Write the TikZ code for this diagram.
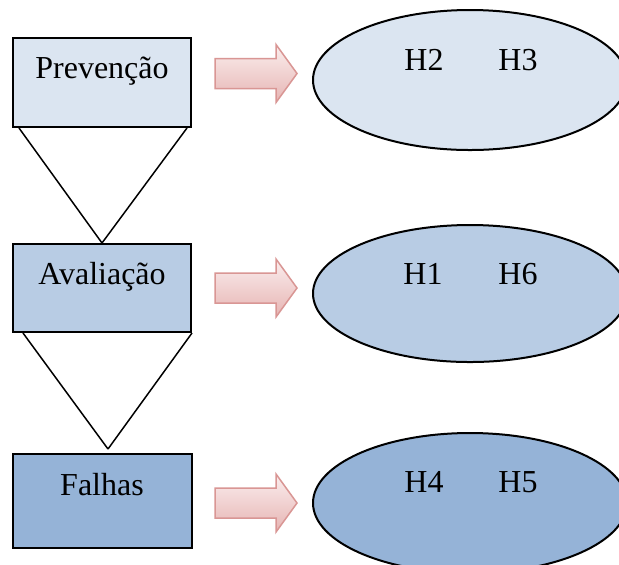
\documentclass[tikz,border=0pt]{standalone}
\usepackage{fontspec}
\setmainfont{Liberation Serif}
\usetikzlibrary{calc,positioning,shapes.geometric}

\begin{document}
\begin{tikzpicture}[x=0.5pt,y=-0.5pt,
    box/.style={draw=black,line width=1pt,rectangle,inner sep=0pt},
    oval/.style={draw=black,line width=1pt,ellipse,inner sep=0pt,
      minimum width=157pt},
    txt/.style={anchor=base,inner sep=0pt,font=\fontsize{16}{19}\selectfont},
    leg/.style={line width=0.75pt,draw=black}]
                        \clip (0,0) rectangle (619,564);
                        \fill[white] (0,0) rectangle (619,564);

                        % Changing colors
                        \definecolor{levelA}{RGB}{219,229,241}%
                        \definecolor{levelB}{RGB}{184,204,228}%
                        \definecolor{levelC}{RGB}{149,179,215}%
                        \definecolor{arrowtop}{RGB}{251,238,238}%
                        \definecolor{arrowbot}{RGB}{230,180,179}%
                        \definecolor{arrowline}{RGB}{217,150,148}%

                        % Drawing boxes
                        \node [box,fill=levelA,minimum width=89pt,minimum height=44.5pt] (prev) at (102,82.5) {};
                        \node [box,fill=levelB,minimum width=89pt,minimum height=44pt] (aval) at (102,288) {};
                        \node [box,fill=levelC,minimum width=89.5pt,minimum height=47pt] (falh) at (102.5,501) {};

                        % Marking box texts
                        \node [txt] (prevtxt) at (102,78) {Prevenção};
                        \node [txt] (avaltxt) at (102,284) {Avaliação};
                        \node [txt] (falhtxt) at (102,495) {Falhas};

                        % Drawing triangle prev aval
                        \draw [leg] ($(prev.south west)+(7,0)$) -- (aval.north);
                        \draw [leg] ($(prev.south east)+(-5,0)$) -- (aval.north);

                        % Drawing triangle aval falh
                        \coordinate (tip) at ($(falh.north)+(5.5,-4)$);
                        \draw [leg] ($(aval.south west)+(11,0)$) -- (tip);
                        \draw [leg] ($(aval.south east)+(0,0)$) -- (tip);

                        % Drawing block arrows
                        \foreach \yc in {73.5,288,503} {
                          \shade [top color=arrowtop,bottom color=arrowbot,draw=arrowline,line width=0.75pt]
                            (215,\yc-15) -- (276,\yc-15) -- (276,\yc-29) -- (297,\yc)
                            -- (276,\yc+29) -- (276,\yc+15) -- (215,\yc+15) -- cycle;%
                        }

                        % Drawing ovals
                        \node [oval,fill=levelA,minimum height=70pt] (hyA) at (470,80) {};
                        \node [oval,fill=levelB,minimum height=68.5pt] (hyB) at (470,293.5) {};
                        \node [oval,fill=levelC,minimum height=70pt] (hyC) at (470,503) {};

                        % Marking hypotheses
                        \node [txt] (hTwo) at (424,70) {H2};
                        \node [txt] (hThree) at (518,70) {H3};
                        \node [txt] (hOne) at (423,284) {H1};
                        \node [txt] (hSix) at (518,284) {H6};
                        \node [txt] (hFour) at (424,492) {H4};
                        \node [txt] (hFive) at (518,492) {H5};
                    \end{tikzpicture}
\end{document}
